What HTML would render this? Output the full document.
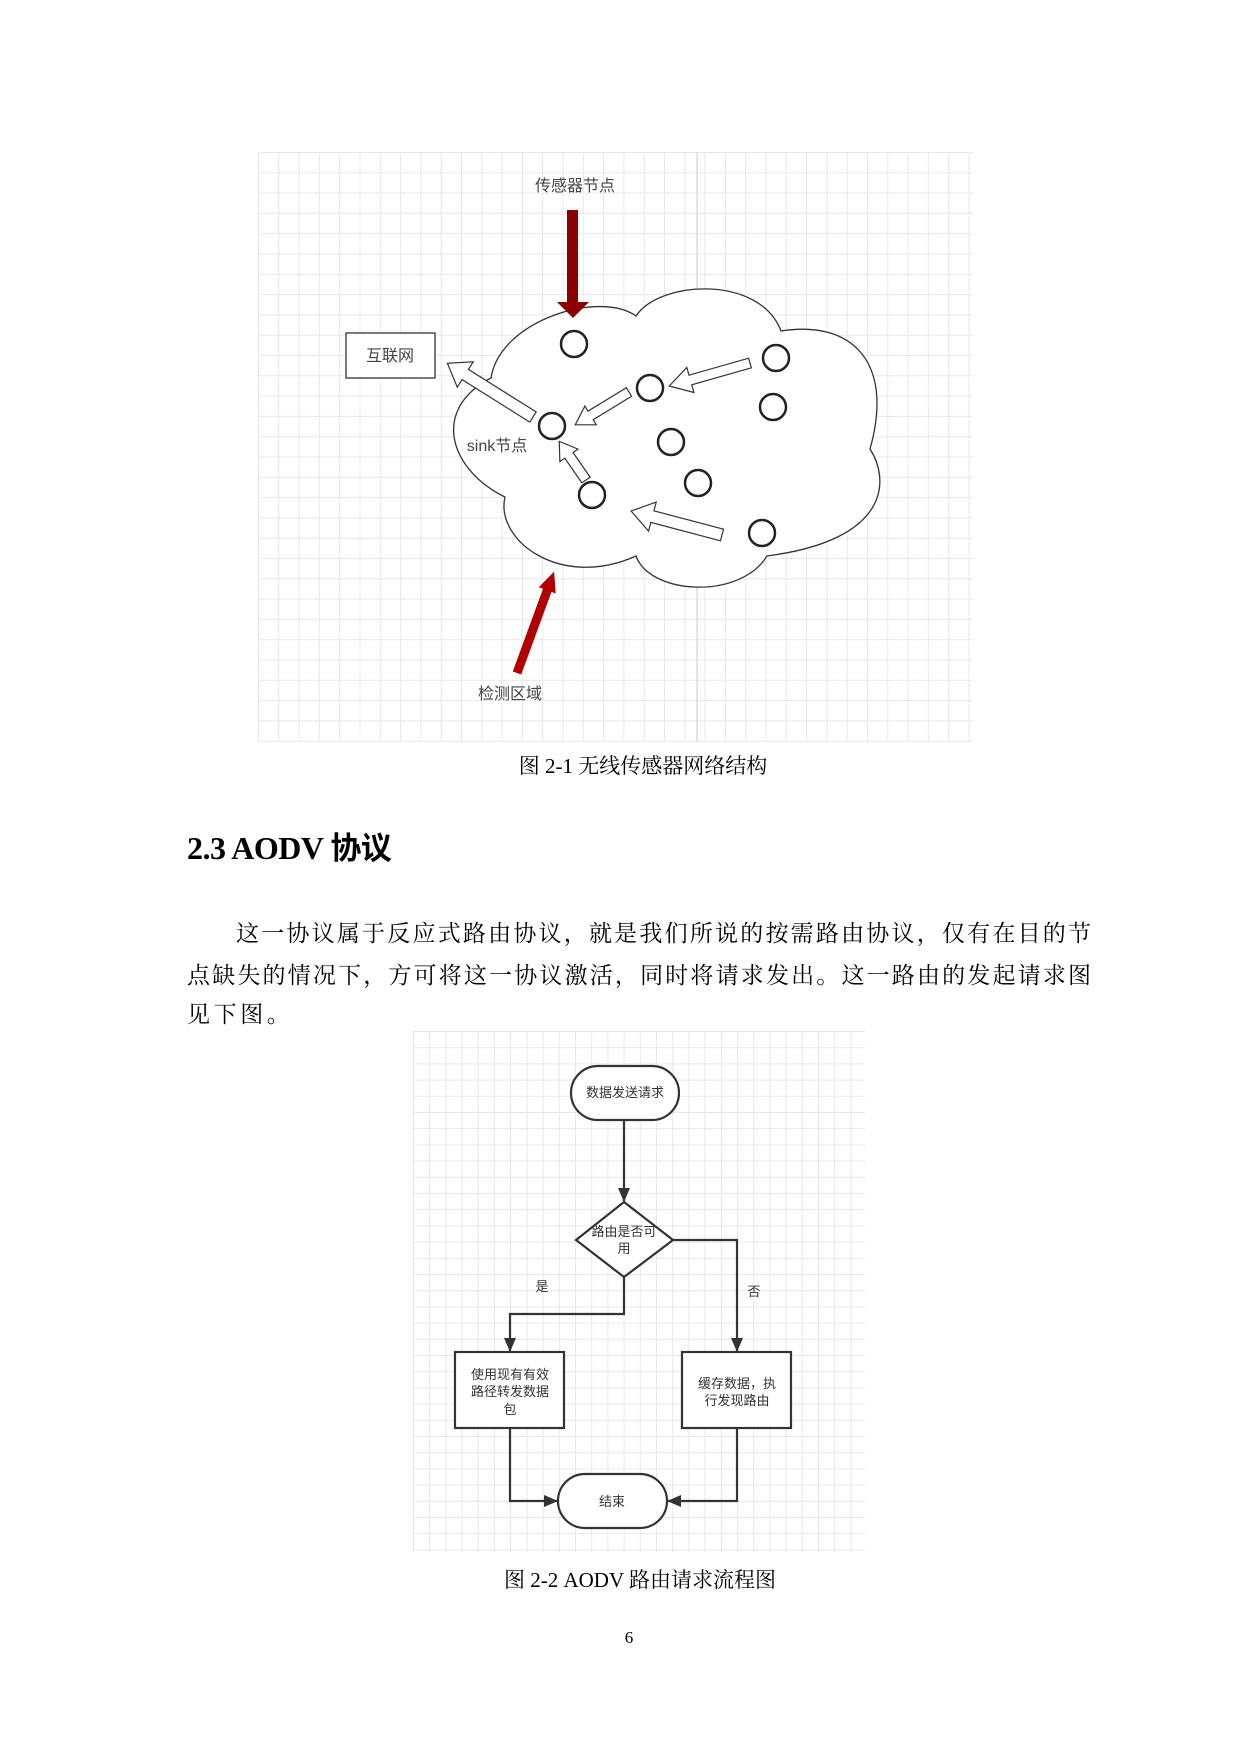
<!DOCTYPE html>
<html><head><meta charset="utf-8">
<style>
html,body{margin:0;padding:0;background:#fff;}
body{width:1240px;height:1754px;position:relative;overflow:hidden;font-family:"Liberation Serif","Noto Serif CJK SC",serif;color:#000;}
.abs{position:absolute;white-space:nowrap;}
.body{font-size:23px;line-height:30px;height:30px;text-align:justify;text-align-last:justify;}
</style></head><body>
<svg class="abs" style="left:0;top:0" width="1240" height="1754" viewBox="0 0 1240 1754">
<defs>
<pattern id="g1" x="258" y="152" width="20.3" height="20.3" patternUnits="userSpaceOnUse">
<path d="M0,0.5 H20.3 M0.5,0 V20.3" stroke="#e8e8e8" stroke-width="1" fill="none"/>
</pattern>
<pattern id="g2" x="413" y="1031" width="16.2" height="16.2" patternUnits="userSpaceOnUse">
<path d="M0,0.5 H16.2 M0.5,0 V16.2" stroke="#e8e8e8" stroke-width="1" fill="none"/>
</pattern>
<marker id="ah" markerWidth="14" markerHeight="14" refX="13" refY="7" orient="auto" markerUnits="userSpaceOnUse">
<path d="M0,1 L14,7 L0,13 Z" fill="#333"/>
</marker>
</defs>
<rect x="258" y="152" width="715" height="590" fill="url(#g1)"/>
<line x1="697" y1="152" x2="697" y2="742" stroke="#dcdcdc" stroke-width="1.5"/>
<path d="M491,378 C500,320 600,290 636,316 C660,280 760,275 781,331 C850,320 895,360 870,449 C890,480 890,540 767,556 C740,600 650,595 636,556 C560,590 495,540 505,497 C450,470 430,410 491,378 Z" fill="#fff" stroke="#333" stroke-width="1.3"/>
<rect x="346" y="333" width="89" height="45" fill="#fff" stroke="#333" stroke-width="1.3"/>
<rect x="567" y="210" width="11" height="93" fill="#8b0000"/>
<polygon points="557,302 589,302 573,318" fill="#8b0000"/>
<g transform="translate(517,673) rotate(-69.9)">
<polygon points="0,-4.5 88,-4.5 88,-9 108,0 88,9 88,4.5 0,4.5" fill="#b00000"/>
</g>
<g fill="#fff" stroke="#333" stroke-width="1.2">
<g transform="translate(533,417) rotate(212.1)"><polygon points="0,-6 -80,-6 -80,-15 -101,0 -80,15 -80,6 0,6" transform="scale(-1,1)"/></g>
<g transform="translate(750,363) rotate(164.1)"><polygon points="0,-5 62,-5 62,-13 84,0 62,13 62,5 0,5"/></g>
<g transform="translate(629,392) rotate(148.6)"><polygon points="0,-5 45,-5 45,-11 63,0 45,11 45,5 0,5"/></g>
<g transform="translate(586,480) rotate(235.3)"><polygon points="0,-5 30,-5 30,-11 47,0 30,11 30,5 0,5"/></g>
<g transform="translate(722,535) rotate(194.8)"><polygon points="0,-6 72,-6 72,-15 94,0 72,15 72,6 0,6"/></g>
</g>
<g fill="#fff" stroke="#222" stroke-width="2.5">
<circle cx="574" cy="344" r="13"/><circle cx="776" cy="358" r="13"/><circle cx="650" cy="388" r="13"/>
<circle cx="773" cy="407" r="13"/><circle cx="552" cy="426" r="13"/><circle cx="671" cy="442" r="13"/>
<circle cx="698" cy="483" r="13"/><circle cx="592" cy="495" r="13"/><circle cx="762" cy="533" r="13"/>
</g>
<rect x="413" y="1031" width="452" height="521" fill="url(#g2)"/>
<g stroke="#333" stroke-width="2.2" fill="none">
<rect x="571" y="1066" width="108" height="54" rx="27" fill="#fff"/>
<polygon points="624,1202 673,1240 624,1277 576,1240" fill="#fff"/>
<rect x="455" y="1352" width="109" height="76" fill="#fff"/>
<rect x="682" y="1352" width="109" height="76" fill="#fff"/>
<rect x="558" y="1474" width="109" height="54" rx="27" fill="#fff"/>
<path d="M624,1120 V1201" marker-end="url(#ah)"/>
<path d="M624,1277 V1314 H510 V1351" marker-end="url(#ah)"/>
<path d="M673,1240 H737 V1351" marker-end="url(#ah)"/>
<path d="M510,1428 V1501 H557" marker-end="url(#ah)"/>
<path d="M737,1428 V1501 H668" marker-end="url(#ah)"/>
</g>
<g font-family="Liberation Sans, Noto Sans CJK SC, sans-serif" font-size="13" fill="#333" text-anchor="middle">
<text x="625" y="1097">数据发送请求</text>
<text x="624" y="1236">路由是否可</text>
<text x="624" y="1253">用</text>
<text x="542" y="1291">是</text>
<text x="754" y="1296">否</text>
<text x="510" y="1379">使用现有有效</text>
<text x="510" y="1396">路径转发数据</text>
<text x="510" y="1414">包</text>
<text x="737" y="1388">缓存数据，执</text>
<text x="737" y="1405">行发现路由</text>
<text x="612" y="1506">结束</text>
</g>
<g font-family="Liberation Sans, Noto Sans CJK SC, sans-serif" font-size="16" fill="#444" text-anchor="middle">
<text x="575" y="191">传感器节点</text>
<text x="390" y="361">互联网</text>
<text x="497" y="451">sink节点</text>
<text x="510" y="699">检测区域</text>
</g>
</svg>
<div class="abs" style="left:0;width:1286px;top:752px;text-align:center;font-size:21px;line-height:28px;">图 2-1 无线传感器网络结构</div>
<div class="abs" style="left:187px;top:826px;font-size:32px;line-height:40px;font-weight:bold;letter-spacing:-0.5px;">2.3 AODV <span style="font-family:'Noto Sans CJK SC',sans-serif;font-size:31px;">协议</span></div>
<div class="abs body" style="left:236px;width:855px;top:919px;">这一协议属于反应式路由协议，就是我们所说的按需路由协议，仅有在目的节</div>
<div class="abs body" style="left:187px;width:904px;top:961px;">点缺失的情况下，方可将这一协议激活，同时将请求发出。这一路由的发起请求图</div>
<div class="abs" style="left:187px;top:1000px;font-size:23px;line-height:30px;letter-spacing:3.6px;">见下图。</div>
<div class="abs" style="left:0;width:1280px;top:1566px;text-align:center;font-size:21px;line-height:28px;">图 2-2 AODV 路由请求流程图</div>
<div class="abs" style="left:0;width:1258px;top:1626px;text-align:center;font-size:17px;line-height:24px;">6</div>
</body></html>
